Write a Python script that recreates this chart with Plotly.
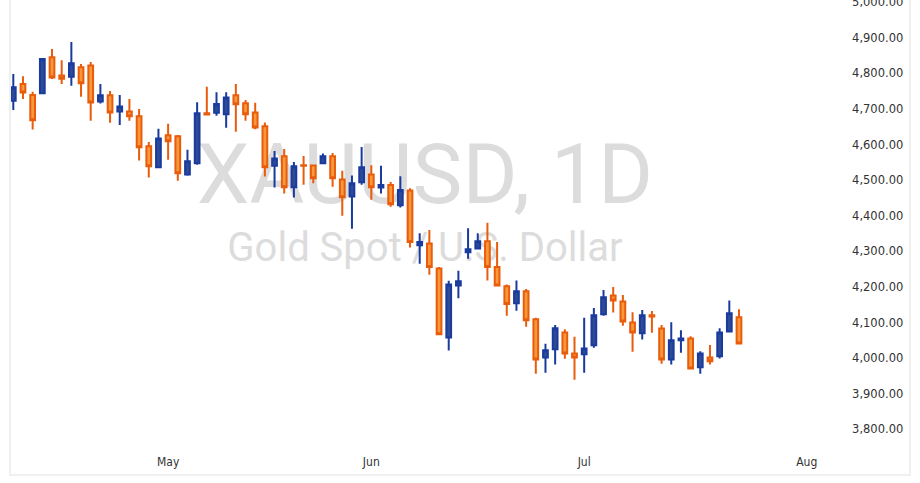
import plotly.graph_objects as go
import pandas as pd

# trading days (XAUUSD daily)
dates_apr = ["2026-04-%02d" % d for d in [9, 10, 13, 14, 15, 16, 17, 20, 21, 22, 23, 24, 27, 28, 29, 30]]
dates_may = ["2026-05-%02d" % d for d in [1, 4, 5, 6, 7, 8, 11, 12, 13, 14, 15, 18, 19, 20, 21, 22, 25, 26, 27, 28, 29]]
dates_jun = ["2026-06-%02d" % d for d in [1, 2, 3, 4, 5, 8, 9, 10, 11, 12, 15, 16, 17, 18, 19, 22, 23, 24, 25, 26, 29, 30]]
dates_jul = ["2026-07-%02d" % d for d in [1, 2, 3, 6, 7, 8, 9, 10, 13, 14, 15, 16, 17, 20, 21, 22, 23]]
dates = dates_apr + dates_may + dates_jun + dates_jul

open_ = [4723, 4770, 4739, 4744, 4845, 4794, 4790, 4817, 4822, 4721,
         4738, 4693, 4693, 4679, 4595, 4536, 4626, 4623, 4516, 4547,
         4688, 4689, 4685, 4738, 4716, 4690, 4651, 4540, 4567, 4480,
         4542, 4541, 4547, 4567, 4502, 4454, 4494, 4516, 4479, 4486,
         4429, 4471, 4317, 4322, 4252, 4058, 4204, 4297, 4308, 4328,
         4256, 4202, 4154, 4188, 4109, 4002, 4025, 4072, 4013, 4011,
         4036, 4123, 4176, 4159, 4100, 4070, 4120, 4083, 3996, 4050,
         4055, 3974, 4002, 4005, 4075, 4115]
high = [4798, 4792, 4748, 4843, 4868, 4837, 4888, 4826, 4832, 4770,
        4750, 4739, 4728, 4700, 4607, 4644, 4658, 4627, 4585, 4719,
        4762, 4747, 4747, 4770, 4725, 4717, 4662, 4582, 4587, 4551,
        4568, 4542, 4575, 4576, 4526, 4513, 4593, 4542, 4540, 4495,
        4511, 4477, 4351, 4360, 4256, 4217, 4245, 4365, 4351, 4380,
        4326, 4207, 4218, 4194, 4113, 4040, 4093, 4081, 4060, 4113,
        4141, 4191, 4200, 4177, 4129, 4135, 4132, 4093, 4101, 4078,
        4061, 4019, 4037, 4084, 4162, 4137]
low = [4697, 4728, 4642, 4742, 4784, 4770, 4765, 4734, 4667, 4715,
       4661, 4655, 4667, 4555, 4507, 4535, 4557, 4498, 4512, 4543,
       4683, 4681, 4647, 4636, 4667, 4643, 4510, 4479, 4462, 4451,
       4487, 4491, 4546, 4481, 4400, 4363, 4487, 4445, 4462, 4425,
       4423, 4311, 4265, 4234, 4066, 4021, 4168, 4279, 4305, 4218,
       4201, 4119, 4133, 4088, 3956, 3959, 3982, 3998, 3939, 3959,
       4029, 4119, 4128, 4091, 4018, 4052, 4071, 3984, 3982, 4015,
       3969, 3956, 3982, 3999, 4075, 4039]
close = [4761, 4746, 4668, 4840, 4788, 4785, 4828, 4772, 4718, 4738,
         4690, 4707, 4679, 4592, 4539, 4617, 4609, 4519, 4553, 4688,
         4684, 4714, 4732, 4713, 4685, 4648, 4536, 4561, 4480, 4539,
         4540, 4505, 4567, 4505, 4452, 4491, 4536, 4480, 4486, 4432,
         4472, 4326, 4326, 4256, 4067, 4207, 4216, 4306, 4328, 4256,
         4204, 4152, 4188, 4106, 3996, 4022, 4084, 4013, 4002, 4027,
         4120, 4171, 4162, 4103, 4072, 4120, 4117, 3996, 4050, 4055,
         3971, 4013, 3991, 4072, 4126, 4041]

month_labels = ["May", "Jun", "Jul", "Aug"]
month_starts = ["2026-05-01", "2026-06-01", "2026-07-01", "2026-08-03"]
price_ticks = [3800, 3900, 4000, 4100, 4200, 4300, 4400, 4500, 4600, 4700, 4800, 4900, 5000]

title_text = "XAUUSD, 1D"
subtitle_text = "Gold Spot / U.S. Dollar"

# positions on a trading-day axis
xpos = list(range(len(dates)))
all_days = pd.bdate_range(dates[0], month_starts[-1])
day_index = {d.strftime("%Y-%m-%d"): i for i, d in enumerate(all_days)}
month_pos = [day_index[m] for m in month_starts]

fig = go.Figure()

# watermark (on base subplot so it sits beneath the candles)
fig.add_trace(go.Scatter(
    x=[0.461, 0.461], y=[0.617, 0.471], mode="text",
    text=[title_text, subtitle_text],
    textfont=dict(family="Roboto", size=[84, 40], color="#dcdcdd"),
    textposition="middle center", hoverinfo="skip", xaxis="x", yaxis="y",
))

fig.add_trace(go.Candlestick(
    x=xpos, open=open_, high=high, low=low, close=close,
    xaxis="x2", yaxis="y2",
    increasing=dict(fillcolor="#2f4b94", line=dict(color="#1a3b9e", width=2)),
    decreasing=dict(fillcolor="#f7993b", line=dict(color="#e85c0c", width=2)),
    whiskerwidth=0,
))

fig.update_layout(
    width=920, height=483,
    margin=dict(l=11, r=11, t=0, b=9),
    paper_bgcolor="white", plot_bgcolor="white",
    showlegend=False,
    xaxis=dict(range=[0, 1], visible=False, fixedrange=True, automargin=False),
    yaxis=dict(range=[0, 1], visible=False, fixedrange=True, automargin=False),
    xaxis2=dict(
        overlaying="x", anchor="y2", range=[-0.238, 92.57], automargin=False,
        tickmode="array", tickvals=month_pos, ticktext=month_labels,
        ticklabelposition="inside", ticks="", ticklabelstandoff=5,
        showgrid=False, zeroline=False,
        showline=True, linecolor="#f0f0f0", linewidth=2,
        tickfont=dict(family="Liberation Sans Narrow, DejaVu Sans Condensed", size=12, color="#333333"),
        rangeslider=dict(visible=False),
    ),
    yaxis2=dict(
        overlaying="y", anchor="x2", side="right", range=[3674.4, 5005.9], automargin=False,
        tickmode="array", tickvals=price_ticks, tickformat=",.2f",
        ticklabelposition="inside", ticks="", ticklabelstandoff=5,
        ticklabeloverflow="allow",
        showgrid=False, zeroline=False,
        showline=True, mirror=True, linecolor="#f0f0f0", linewidth=2,
        tickfont=dict(family="DejaVu Sans", size=11.5, color="#333333"),
    ),
)

fig.write_html("out.html")
